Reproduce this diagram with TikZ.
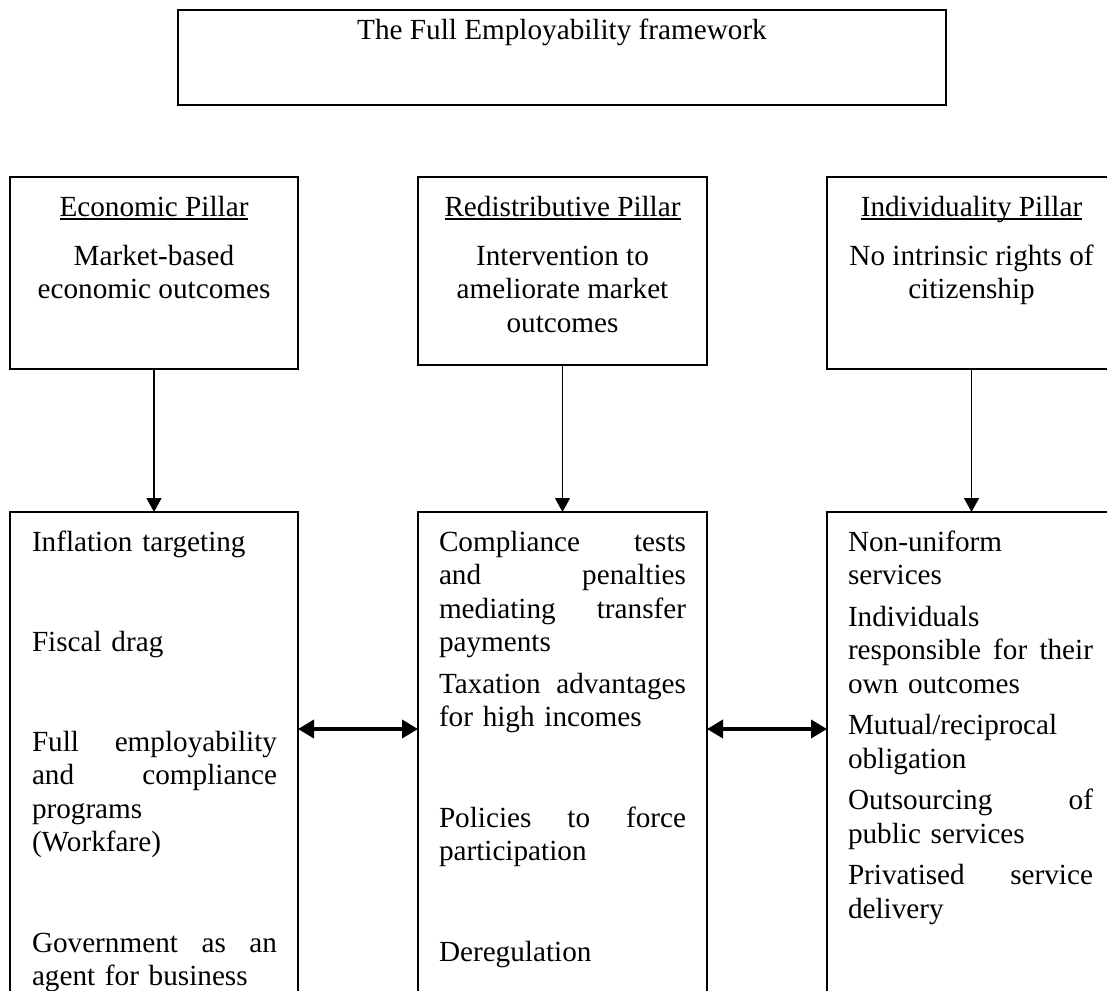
\documentclass[tikz,border=0pt]{standalone}
\usepackage{fontspec}
\setmainfont{Liberation Serif}
\usetikzlibrary{arrows.meta}
\newcommand{\jline}[2][245pt]{\leavevmode\hbox to #1{#2}}
\newcommand{\hdr}[1]{\setbox0\hbox{#1}\rlap{\rule[-3.5pt]{\wd0}{1.4pt}}\box0}
\begin{document}
\begin{tikzpicture}[x=1pt,y=-1pt,
  every node/.style={font=\fontsize{29.2}{33.5}\selectfont, inner sep=0pt, outer sep=0pt},
  frame/.style={draw, line width=1.2pt, inner sep=0pt},
  para/.style={anchor=base west, text width=247pt, align=left},
  ctr/.style={anchor=base},
  down/.style={-{Triangle[length=14pt,width=15pt]}, line width=1.4pt},
  both/.style={{Triangle[length=16pt,width=18pt]}-{Triangle[length=16pt,width=18pt]}, line width=3.6pt}]
\useasboundingbox (0,0) rectangle (1107,990);
% title
\node[frame, minimum width=768pt, minimum height=95pt] (title) at (562,57.5) {};
\node[ctr] (tt) at (562,40) {The Full Employability framework};
% top boxes
\node[frame, minimum width=288pt, minimum height=192pt] (econ) at (154,273) {};
\node[frame, minimum width=289pt, minimum height=188pt] (redis) at (562.5,271) {};
\node[frame, minimum width=289pt, minimum height=192pt] (indiv) at (971.5,273) {};
% bottom boxes
\node[frame, minimum width=288pt, minimum height=540pt] (econB) at (154,782) {};
\node[frame, minimum width=289pt, minimum height=540pt] (redisB) at (562.5,782) {};
\node[frame, minimum width=289pt, minimum height=540pt] (indivB) at (971.5,782) {};
% top box texts
\node[ctr] (eh) at (154,216) {\hdr{Economic Pillar}};
\node[ctr] (eb1) at (154,265) {Market-based};
\node[ctr] (eb2) at (154,298.5) {economic outcomes};
\node[ctr] (rh) at (562.5,216) {\hdr{Redistributive Pillar}};
\node[ctr] (rb1) at (562.5,265) {Intervention to};
\node[ctr] (rb2) at (562.5,298.5) {ameliorate market};
\node[ctr] (rb3) at (562.5,332) {outcomes};
\node[ctr] (ih) at (971.5,216) {\hdr{Individuality Pillar}};
\node[ctr] (ib1) at (971.5,265) {No intrinsic rights of};
\node[ctr] (ib2) at (971.5,298.5) {citizenship};
% economic list
\node[para] (e1) at (32,551) {Inflation targeting};
\node[para] (e2) at (32,651.5) {Fiscal drag};
\node[para] (e3) at (32,751) {\jline{Full\hfill employability}\\\jline{and\hfill compliance}\\programs\\(Workfare)};
\node[para] (e4) at (32,952) {\jline{Government\hfill as\hfill an}\\agent for business};
% redistributive list
\node[para] (r1) at (439,551) {\jline[247pt]{Compliance\hfill tests}\\\jline[247pt]{and\hfill penalties}\\\jline[247pt]{mediating\hfill transfer}\\payments};
\node[para] (r2) at (439,693) {\jline[247pt]{Taxation\hfill advantages}\\for high incomes};
\node[para] (r3) at (439,827) {\jline[247pt]{Policies\hfill to\hfill force}\\participation};
\node[para] (r4) at (439,961) {Deregulation};
% individuality list
\node[para] (i1) at (848,551) {Non-uniform\\services};
\node[para] (i2) at (848,626) {Individuals\\\jline{responsible\hfill for\hfill their}\\own outcomes};
\node[para] (i3) at (848,734.5) {Mutual/reciprocal\\obligation};
\node[para] (i4) at (848,809.5) {\jline{Outsourcing\hfill of}\\public services};
\node[para] (i5) at (848,884.5) {\jline{Privatised\hfill service}\\delivery};
% connectors
\coordinate (hy) at (0,729);
\draw[down] (econ.south) -- (econB.north);
\draw[down] (redis.south) -- (redisB.north);
\draw[down] (indiv.south) -- (indivB.north);
\draw[both] (econB.east |- hy) -- (redisB.west |- hy);
\draw[both] (redisB.east |- hy) -- (indivB.west |- hy);
\end{tikzpicture}
\end{document}
